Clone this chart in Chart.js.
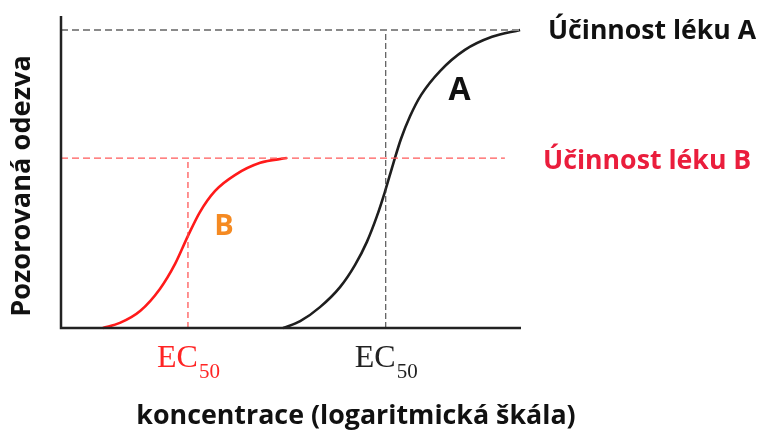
<!DOCTYPE html>
<html>
<head>
<meta charset="utf-8">
<script src="https://cdn.jsdelivr.net/npm/chart.js@4"></script>
<style>
  html, body { margin: 0; padding: 0; background: #fff; }
  #wrap { width: 760px; height: 435px; }
</style>
</head>
<body>
<div id="wrap"><canvas id="chart"></canvas></div>
<script>
// ─── DATA (x: position on log-concentration axis 0–100, y: response %) ───
var drugBx = [9.1, 12.8, 17.2, 21.5, 24.8, 27.6, 30.2, 33.5, 37.8, 43.3, 49.1];
var drugBy = [0, 1.7, 5.7, 13.1, 21.5, 30.9, 38.9, 46.0, 51.3, 55.4, 57.0];

var drugAx = [48.3, 52.0, 56.3, 60.7, 63.9, 66.5, 68.7, 70.4, 72.2, 73.9, 75.9, 78.3, 82.4, 87.8, 93.7, 99.8];
var drugAy = [0, 2.3, 7.0, 13.8, 21.1, 28.9, 37.6, 45.6, 55.0, 63.4, 71.1, 78.2, 86.2, 93.3, 97.7, 100];

var maxA = 100, maxB = 57;       // efficacy levels
var ec50A = 70.6, ec50B = 27.6;  // EC50 positions
var maxLineEndA = 100.4, maxLineEndB = 96.5;

var labels = {
  effA: 'Účinnost léku A',
  effB: 'Účinnost léku B',
  curveA: 'A',
  curveB: 'B',
  xTitle: 'koncentrace (logaritmická škála)',
  yTitle: 'Pozorovaná odezva'
};

function pts(xs, ys) {
  return xs.map(function(x, i) { return { x: x, y: ys[i] }; });
}

var datasets = [
  { // efficacy A guide
    data: [{ x: 0, y: maxA }, { x: maxLineEndA, y: maxA }],
    borderColor: '#8a8a8a', borderWidth: 2, borderDash: [7, 4]
  },
  { // efficacy B guide
    data: [{ x: 0, y: maxB }, { x: maxLineEndB, y: maxB }],
    borderColor: '#ff5a5a', borderWidth: 1.3, borderDash: [7, 4]
  },
  { // EC50 A
    data: [{ x: ec50A, y: 0 }, { x: ec50A, y: maxA }],
    borderColor: '#333', borderWidth: 1, borderDash: [6, 3]
  },
  { // EC50 B
    data: [{ x: ec50B, y: 0 }, { x: ec50B, y: maxB }],
    borderColor: '#ff4a4a', borderWidth: 1.2, borderDash: [6, 4]
  },
  {
    data: pts(drugBx, drugBy),
    borderColor: '#ff1a1a', borderWidth: 2.6, cubicInterpolationMode: 'monotone'
  },
  {
    data: pts(drugAx, drugAy),
    borderColor: '#1e1e1e', borderWidth: 2.6, cubicInterpolationMode: 'monotone'
  }
];

// fit text into a given width
function fitFont(ctx, text, weight, family, width) {
  ctx.font = weight + ' 20px ' + family;
  var w = ctx.measureText(text).width;
  var size = 20 * width / w;
  ctx.font = weight + ' ' + size.toFixed(1) + 'px ' + family;
  return size;
}

var decorations = {
  id: 'decorations',
  afterDatasetsDraw: function(chart) {
    var ctx = chart.ctx;
    var a = chart.chartArea;
    var xs = chart.scales.x, ys = chart.scales.y;
    ctx.save();

    // axes
    ctx.strokeStyle = '#222';
    ctx.lineWidth = 2.5;
    ctx.beginPath();
    ctx.moveTo(a.left, a.top + 1);
    ctx.lineTo(a.left, a.bottom);
    ctx.lineTo(a.right, a.bottom);
    ctx.stroke();

    var sans = '"Open Sans", "Noto Sans", sans-serif';
    var serif = '"Liberation Serif", "DejaVu Serif", serif';

    ctx.textBaseline = 'middle';
    ctx.textAlign = 'left';

    // efficacy labels
    ctx.fillStyle = '#111';
    fitFont(ctx, labels.effA, 'bold', sans, 208);
    ctx.fillText(labels.effA, 548, ys.getPixelForValue(maxA) + 2);
    ctx.fillStyle = '#ea1d3c';
    fitFont(ctx, labels.effB, 'bold', sans, 208);
    ctx.fillText(labels.effB, 543, ys.getPixelForValue(maxB) + 3);

    // curve letters
    ctx.textAlign = 'center';
    ctx.fillStyle = '#111';
    ctx.font = 'bold 32px ' + sans;
    ctx.fillText(labels.curveA, 459.5, 91);
    ctx.fillStyle = '#f58a22';
    ctx.font = 'bold 29px ' + sans;
    ctx.fillText(labels.curveB, 224, 227);

    // EC50 labels under the axis
    function ec50(xVal, color) {
      var cx = xs.getPixelForValue(xVal);
      ctx.fillStyle = color;
      ctx.textAlign = 'left';
      ctx.textBaseline = 'alphabetic';
      ctx.font = '32px ' + serif;
      var w1 = ctx.measureText('EC').width;
      ctx.font = '21px ' + serif;
      var w2 = ctx.measureText('50').width;
      var x0 = cx - (w1 + w2) / 2;
      ctx.font = '32px ' + serif;
      ctx.fillText('EC', x0, 367);
      ctx.font = '21px ' + serif;
      ctx.fillText('50', x0 + w1 + 1, 378);
    }
    ec50(ec50B, '#ff2424');
    ec50(ec50A, '#222');

    // axis titles
    ctx.fillStyle = '#111';
    ctx.textAlign = 'center';
    ctx.textBaseline = 'middle';
    fitFont(ctx, labels.xTitle, 'bold', sans, 440);
    ctx.fillText(labels.xTitle, 356, 416);

    ctx.translate(22, 186);
    ctx.rotate(-Math.PI / 2);
    fitFont(ctx, labels.yTitle, 'bold', sans, 262);
    ctx.fillText(labels.yTitle, 0, 0);

    ctx.restore();
  }
};

new Chart(document.getElementById('chart'), {
  type: 'line',
  data: { datasets: datasets },
  options: {
    responsive: true,
    maintainAspectRatio: false,
    animation: false,
    layout: { padding: { left: 61, right: 239, top: 15, bottom: 107 } },
    elements: { point: { radius: 0 }, line: { fill: false } },
    datasets: { line: { clip: false, pointRadius: 0 } },
    plugins: { legend: { display: false }, tooltip: { enabled: false } },
    scales: {
      x: { type: 'linear', min: 0, max: 100, display: false },
      y: { type: 'linear', min: 0, max: 105, display: false }
    }
  },
  plugins: [decorations]
});
</script>
</body>
</html>
